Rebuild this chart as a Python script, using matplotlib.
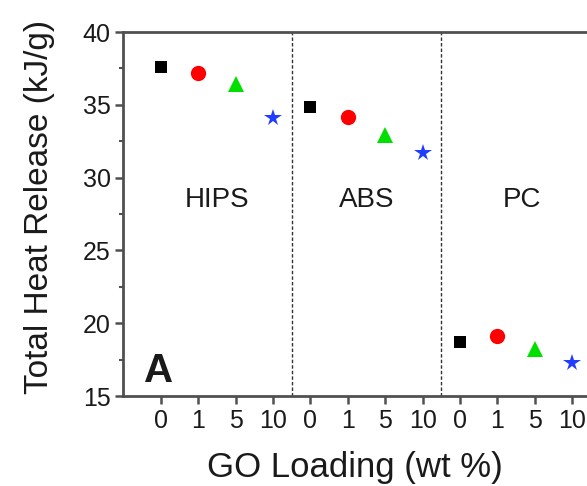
import matplotlib
matplotlib.use("Agg")
import matplotlib.pyplot as plt
from matplotlib.ticker import MultipleLocator

plt.rcParams['font.family'] = ['Liberation Sans', 'DejaVu Sans']

# Total heat release per polymer and GO loading
polymers = ["HIPS", "ABS", "PC"]
loadings = ["0", "1", "5", "10"]
hips = [37.6, 37.2, 36.4, 34.1]
abs_ = [34.85, 34.2, 32.9, 31.7]
pc = [18.7, 19.1, 18.2, 17.3]

markers = ["s", "o", "^", "*"]
colors = ["#000000", "#ff0000", "#00e000", "#1f3cff"]
sizes = [9, 11, 12, 13]

fig = plt.figure(figsize=(5.87, 4.86), dpi=100)
ax = fig.add_axes([0.21, 0.185, 0.80, 0.749])

groups = [hips, abs_, pc]
pos = 1
for g, vals in enumerate(groups):
    for i, v in enumerate(vals):
        ax.plot(pos, v, linestyle="none", marker=markers[i], color=colors[i],
                markersize=sizes[i], markeredgewidth=0)
        pos += 1

# group separators
for xs in [4.5, 8.5]:
    ax.axvline(xs, color="#333333", linestyle=(0, (2.5, 1.5)), linewidth=1.0)

label_x = [2.5, 6.5, 10.65]
for name, xl in zip(polymers, label_x):
    ax.text(xl, 28.5, name, ha="center", va="center", fontsize=20, color="#1a1a1a")

ax.text(0.55, 15.95, "A", fontsize=29, fontweight="bold", ha="left", va="baseline",
        color="#1a1a1a")

ax.set_xlim(0, 12.55)
ax.set_ylim(15, 40)
ax.set_xticks(range(1, 13))
ax.set_xticklabels(loadings * 3)
ax.yaxis.set_major_locator(MultipleLocator(5))
ax.yaxis.set_minor_locator(MultipleLocator(2.5))

for side in ["left", "bottom", "top"]:
    ax.spines[side].set_color("#505050")
    ax.spines[side].set_linewidth(2.0)
ax.spines["right"].set_visible(False)

ax.tick_params(axis="both", which="major", direction="out", length=6, width=1.8,
               color="#505050", labelsize=18, labelcolor="#1a1a1a", pad=3)
ax.tick_params(axis="y", which="minor", direction="out", length=3, width=1.5,
               color="#505050")
ax.tick_params(axis="x", which="minor", bottom=False)

fig.text(40 / 587, 0.575, "Total Heat Release (kJ/g)", rotation=90,
         ha="center", va="center", fontsize=24, color="#1a1a1a")
fig.text(0.605, 0.019, "GO Loading (wt %)", ha="center", va="baseline",
         fontsize=25, color="#1a1a1a")

fig.savefig("out.png", dpi=100)
